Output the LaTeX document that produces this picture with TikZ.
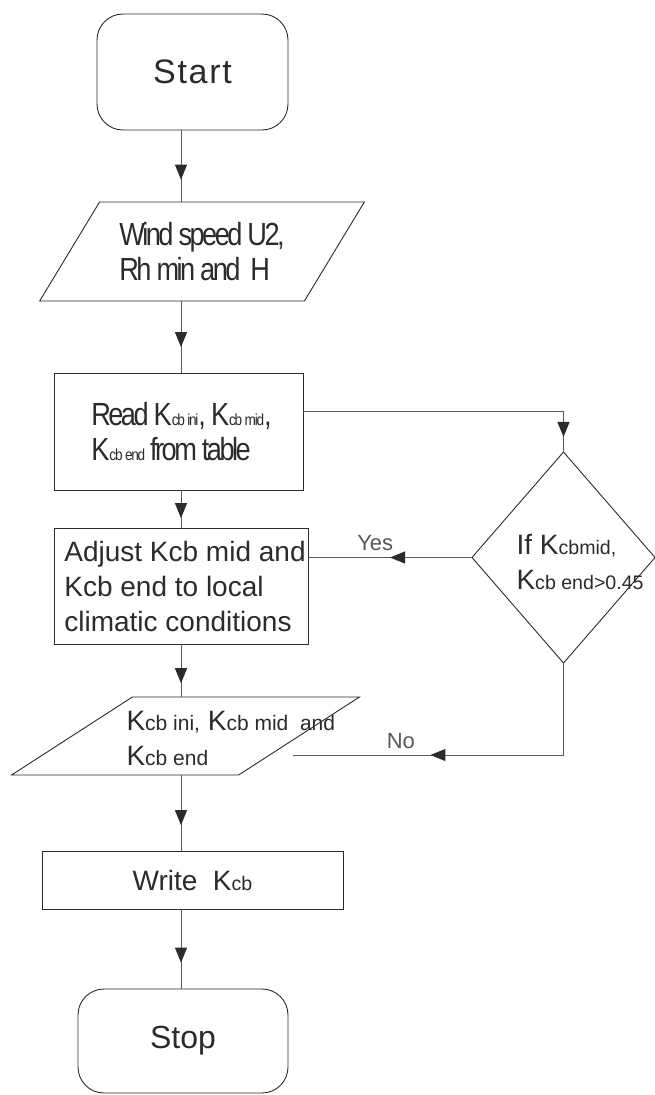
\documentclass[tikz,border=0pt]{standalone}
\usepackage{fontspec}
\setmainfont{Liberation Sans}
\newfontfamily\tightfont[FakeStretch=0.85, LetterSpace=-8]{Liberation Sans}
\newfontfamily\spacedfont[LetterSpace=5]{Liberation Sans}
\usepackage{tikz}
\usetikzlibrary{positioning, arrows.meta, shapes.geometric, decorations.markings, calc}
\usepackage{xcolor}
\definecolor{ink}{HTML}{2B2B2B}
\definecolor{wire}{HTML}{5A5A5A}

% K with a shrunk index, as in the chart
\newcommand{\Kc}[2]{K\scalebox{#1}{#2}}

\tikzset{
  shape base/.style={draw=ink, line width=0.9pt, inner sep=0pt, outer sep=0pt, text=ink},
  terminal/.style={shape base, rectangle, rounded corners=26pt},
  process/.style={shape base, rectangle, align=left},
  io/.style={shape base, trapezium, trapezium stretches=true, align=left},
  decision/.style={shape base, diamond},
  inner text/.style={anchor=west, align=left, text=ink},
  tight/.style={font=\tightfont\fontsize{32}{35}\selectfont},
  flow/.style={draw=wire, line width=0.9pt},
  tipat/.style={postaction={decorate}, decoration={markings,
      mark=at position #1 with {\arrow{Triangle[length=15pt, width=12pt, color=ink]}}}},
  answer/.style={text=black!65, font=\fontsize{22}{26}\selectfont},
}

\begin{document}
\begin{tikzpicture}[x=1pt, y=-1pt, font=\fontsize{28}{35}\selectfont]
\useasboundingbox (0,0) rectangle (654,1095);
\coordinate (trunk) at (181,0);

\node[terminal, minimum width=191pt, minimum height=116pt,
  font=\spacedfont\fontsize{34}{40}\selectfont] (start) at (192.5,72) {Start};
\node[io, tight, trapezium left angle=50.4, trapezium right angle=129.6,
  minimum width=326pt, minimum height=99pt] (wind) at (202,251.5)
  {Wind speed U2,\\ Rh min and\ \ H};
\node[process, tight, minimum width=249pt, minimum height=117pt] (read) at (178.5,431.5)
  {\hspace*{6pt}Read \Kc{0.5}{cb ini}, \Kc{0.5}{cb mid},\\ \hspace*{6pt}\Kc{0.5}{cb end} from table};
\node[process, minimum width=254pt, minimum height=116pt] (adjust) at (181,586)
  {\hspace*{8pt}Adjust Kcb mid and\\ \hspace*{8pt}Kcb end to local\\ \hspace*{8pt}climatic conditions};
\node[decision, minimum width=183pt, minimum height=211pt] (check) at (563.5,557.5) {};
\node[inner text] (checktext) at (513,562)
  {If \Kc{0.7}{cbmid,}\\ \Kc{0.7}{cb end>0.45}};
\node[io, trapezium left angle=42.2, trapezium right angle=137.8,
  minimum width=349pt, minimum height=78pt] (values) at (185.5,736) {\phantom{K}};
\node[inner text] (valuestext) at (123,738)
  {\Kc{0.75}{cb ini,} \Kc{0.75}{cb mid\ \ and}\\ \Kc{0.75}{cb end}};
\node[process, minimum width=301pt, minimum height=58pt] (write) at (192.5,880)
  {Write\ \ \Kc{0.7}{cb}};
\node[terminal, minimum width=210pt, minimum height=104pt,
  font=\fontsize{32}{38}\selectfont] (stop) at (183,1041) {Stop};

% main line
\draw[flow, tipat=0.69] (start.south -| trunk) -- (wind.north -| trunk);
\draw[flow, tipat=0.64] (wind.south -| trunk) -- (read.north -| trunk);
\draw[flow, tipat=0.74] (read.south -| trunk) -- (adjust.north -| trunk);
\draw[flow, tipat=0.74] (adjust.south -| trunk) -- (values.north -| trunk);
\draw[flow, tipat=0.66] (values.south -| trunk) -- (write.north -| trunk);
\draw[flow, tipat=0.67] (write.south -| trunk) -- (stop.north -| trunk);

% side branch
\coordinate (readout) at ($(read.north east)!0.33!(read.south east)$);
\coordinate (noin) at ($(values.center)+(107,19)$);
\draw[flow, tipat=0.95] (readout) -| (check.north);
\draw[flow, tipat=0.5] (check.west) -- (check.west -| adjust.east)
  node[answer, pos=0.59, above=3pt] (yes) {Yes};
\draw[flow, tipat=0.62] (check.south) |- (noin)
  node[answer, pos=0.8, above=3pt] (no) {No};
\end{tikzpicture}
\end{document}
